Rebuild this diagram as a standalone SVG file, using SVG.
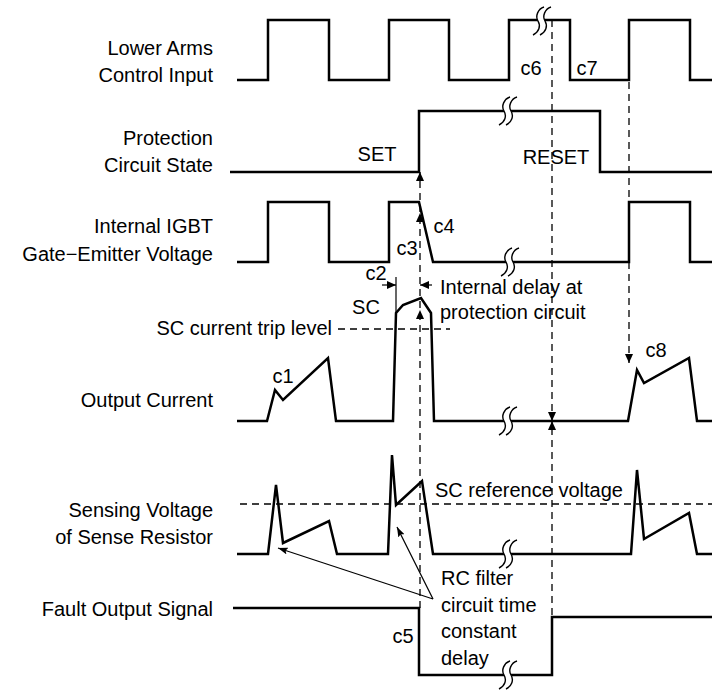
<svg xmlns="http://www.w3.org/2000/svg" width="712" height="690" viewBox="0 0 712 690">
<style>
text{font-family:"Liberation Sans",Arial,sans-serif;font-size:20px;fill:#000}
.lbl{text-anchor:end}
.mid{text-anchor:middle}
.w{fill:none;stroke:#000;stroke-width:2.5;stroke-linejoin:miter}
.d{fill:none;stroke:#000;stroke-width:1.3;stroke-dasharray:7 5}
.t{fill:none;stroke:#000;stroke-width:1.2}
.bs{fill:none;stroke:#000;stroke-width:1.4}
</style>
<defs>
<marker id="ah" viewBox="0 0 9 8" refX="9" refY="4" markerWidth="9" markerHeight="8" markerUnits="userSpaceOnUse" orient="auto">
<path d="M0,0 L9,4 L0,8 Z" fill="#000"/>
</marker>
<marker id="ahs" viewBox="0 0 10 7" refX="10" refY="3.5" markerWidth="10" markerHeight="7" markerUnits="userSpaceOnUse" orient="auto">
<path d="M0,0 L10,3.5 L0,7 L2,3.5 Z" fill="#000"/>
</marker>
<g id="brk">
<path d="M-9,14 C-3,11 -1,5 -4,0 C-7,-5 -4,-12 2,-14 L9,-14 C3,-12 0,-5 3,0 C6,5 4,11 -2,14 Z" fill="#fff"/>
<path class="bs" d="M-9,14 C-3,11 -1,5 -4,0 C-7,-5 -4,-12 2,-14"/>
<path class="bs" d="M-2,14 C4,11 6,5 3,0 C0,-5 3,-12 9,-14"/>
</g>
</defs>

<g id="connectors">
<path class="d" d="M552,20 V617"/>
<path class="d" d="M629,82 V363" marker-end="url(#ah)"/>
<path class="d" d="M420,608 V172" marker-end="url(#ah)"/>
<path d="M420,230 V213" stroke="none" fill="none" marker-end="url(#ah)"/>
<path d="M420,330 V310" stroke="none" fill="none" marker-end="url(#ah)"/>
<path d="M552,405 V421" stroke="none" fill="none" marker-end="url(#ah)"/>
<path d="M552,437 V421" stroke="none" fill="none" marker-end="url(#ah)"/>
<path class="d" d="M338,329 H450"/>
<path class="d" d="M240,504 H712"/>
<path class="t" d="M396,277 V313"/>
<path class="t" d="M382,285 H396" marker-end="url(#ah)"/>
<path class="t" d="M432,285 H420" marker-end="url(#ah)"/>
<path class="t" d="M433,599 L278,548" marker-end="url(#ahs)"/>
<path class="t" d="M433,599 L397,527" marker-end="url(#ahs)"/>
</g>

<g id="lower-arms">
<text class="lbl" x="213" y="55">Lower Arms</text>
<text class="lbl" x="213" y="82">Control Input</text>
<path class="w" d="M237,80 H268 V20 H329 V80 H389 V20 H449 V80 H509 V20 H570 V80 H629 V20 H690 V80 H712"/>
<use href="#brk" x="542" y="21"/>
<text class="mid" x="531" y="75">c6</text>
<text class="mid" x="587" y="75">c7</text>
</g>

<g id="protection-state">
<text class="lbl" x="213" y="145">Protection</text>
<text class="lbl" x="213" y="172">Circuit State</text>
<path class="w" d="M230,172 H419 V111 H600 V172 H712"/>
<use href="#brk" x="508" y="111"/>
<text class="mid" x="377" y="161">SET</text>
<text class="mid" x="556" y="164">RESET</text>
</g>

<g id="gate-voltage">
<text class="lbl" x="213" y="233">Internal IGBT</text>
<text class="lbl" x="213" y="261">Gate−Emitter Voltage</text>
<path class="w" d="M237,262 H268 V202 H329 V262 H389 V202 H419 L433,262 H629 V202 H690 V262 H712"/>
<use href="#brk" x="510" y="262"/>
<text class="mid" x="444" y="233">c4</text>
<text class="mid" x="407" y="255">c3</text>
</g>

<g id="delay-labels">
<text class="mid" x="376" y="280">c2</text>
<text class="mid" x="366" y="314">SC</text>
<text x="440" y="294">Internal delay at</text>
<text x="440" y="319">protection circuit</text>
<text class="lbl" x="332" y="335">SC current trip level</text>
</g>

<g id="output-current">
<text class="lbl" x="213" y="407">Output Current</text>
<path class="w" d="M237,421 H267 L275,390 L283,400 L328,358 L336,421 H393 L396,313 L403,305 L421,298 L431,313 L434,421 H628 L637,370 L644,383 L689,358 L697,421 H712"/>
<use href="#brk" x="508" y="421"/>
<text class="mid" x="283" y="383">c1</text>
<text class="mid" x="656" y="357">c8</text>
</g>

<g id="sensing-voltage">
<text class="lbl" x="213" y="517">Sensing Voltage</text>
<text class="lbl" x="213" y="544">of Sense Resistor</text>
<path class="w" d="M237,554 H268 L276,485 L283,543 L329,521 L337,554 H388 L392,455 L396,505 L422,481 L433,554 H631 L637,470 L644,539 L689,513 L697,554 H712"/>
<use href="#brk" x="508" y="554"/>
<text x="435" y="497">SC reference voltage</text>
</g>

<g id="rc-note">
<text x="441" y="585">RC filter</text>
<text x="441" y="612">circuit time</text>
<text x="441" y="638">constant</text>
<text x="441" y="665">delay</text>
</g>

<g id="fault-output">
<text class="lbl" x="213" y="616">Fault Output Signal</text>
<path class="w" d="M233,608 H419 V675 H552 V617 H712"/>
<use href="#brk" x="508" y="675"/>
<text class="mid" x="403" y="643">c5</text>
</g>
</svg>
